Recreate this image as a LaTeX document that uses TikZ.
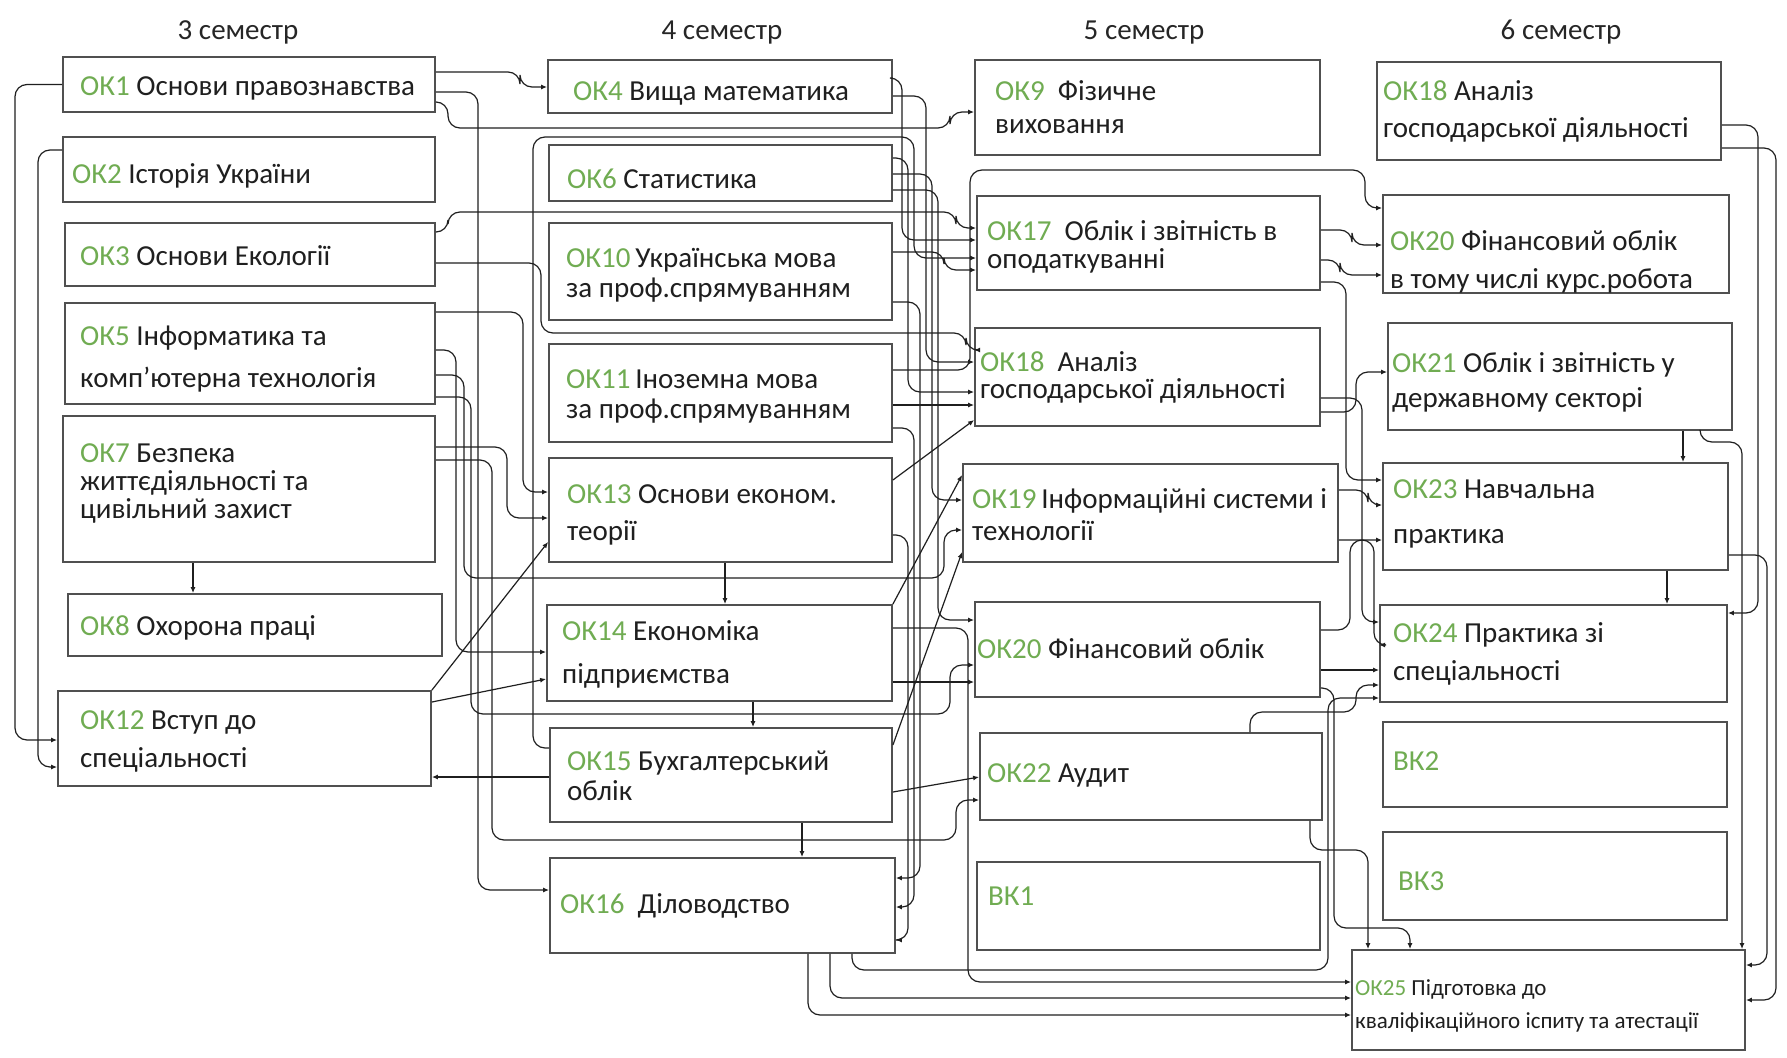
\documentclass[tikz,border=0pt]{standalone}
\usepackage{fontspec}
\setmainfont{Carlito}
\usetikzlibrary{arrows.meta}

\definecolor{okgreen}{RGB}{112,172,82}
\definecolor{boxgray}{RGB}{80,80,80}
\newcommand{\kod}[1]{\textcolor{okgreen}{#1}}

\tikzset{
  box/.style={draw=boxgray, line width=1.8pt, fill=white, rectangle, inner sep=0pt},
  txt/.style={anchor=base west, inner sep=0pt, align=left, text=black!88, font=\fontsize{29}{#1}\selectfont},
  txt/.default=34,
  head/.style={anchor=base, inner sep=0pt, text=black!85, font=\fontsize{29}{34}\selectfont},
  link/.style={draw=black!88, line width=1.2pt, rounded corners=12pt},
  tip/.style={link, -{Latex[length=6pt,width=5pt]}},
}

\begin{document}
\begin{tikzpicture}[x=1pt, y=-1pt]

		\fill[white] (0,0) rectangle (1787,1057);
		\useasboundingbox (0,0) rectangle (1787,1057);

		% semesters
		\foreach \x / \s in {238/3, 722/4, 1144/5, 1561/6} {
		\node[head] (sem\s) at (\x, 40) {\s\ семестр};
		}

		% boxes
		\foreach \n / \xa / \ya / \xb / \yb in {
		ok1/63/57/435/112, ok2/63/137/435/202, ok3/65/223/435/286, ok5/65/303/435/404,
		ok7/63/416/435/562, ok8/68/594/442/656, ok12/58/691/431/786,
		ok4/548/60/892/113, ok6/549/145/892/201, ok10/549/223/892/320, ok11/549/344/892/442,
		ok13/549/458/892/562, ok14/547/605/892/701, ok15/550/728/892/822, ok16/550/858/895/953,
		ok9/975/60/1320/155, ok17/977/196/1320/290, ok18/975/328/1320/426, ok19/963/464/1338/562,
		ok20/975/602/1320/697, ok22/980/733/1322/820, bk1/977/862/1320/950,
		okb18/1377/62/1721/160, okb20/1383/195/1729/293, ok21/1388/323/1732/430, ok23/1383/463/1728/570,
		ok24/1380/605/1727/702, bk2/1383/722/1727/807, bk3/1383/832/1727/920, ok25/1352/950/1745/1050} {
		\pgfmathsetmacro\w{\xb-\xa}
		\pgfmathsetmacro\h{\yb-\ya}
		\node[box, minimum width=\w pt, minimum height=\h pt] (\n) at ({(\xa+\xb)/2}, {(\ya+\yb)/2}) {};
		}

		% texts, 3 semestr
		\node[txt] (t-ok1) at (80, 95) {\kod{ОК1} Основи правознавства};
		\node[txt] (t-ok2) at (72, 183) {\kod{ОК2} Історія України};
		\node[txt] (t-ok3) at (80, 265) {\kod{ОК3} Основи Екології};
		\node[txt=42] (t-ok5) at (80, 387) {\kod{ОК5} Інформатика та\\комп’ютерна технологія};
		\node[txt=28] (t-ok7) at (80, 518) {\kod{ОК7} Безпека\\життєдіяльності та\\цивільний захист};
		\node[txt] (t-ok8) at (80, 635) {\kod{ОК8} Охорона праці};
		\node[txt=38] (t-ok12) at (80, 767) {\kod{ОК12} Вступ до\\спеціальності};

		% texts, 4 semestr
		\node[txt] (t-ok4) at (573, 100) {\kod{ОК4} Вища математика};
		\node[txt] (t-ok6) at (567, 188) {\kod{ОК6} Статистика};
		\node[txt=30] (t-ok10) at (566, 297) {\kod{ОК10}\,Українська мова\\за проф.спрямуванням};
		\node[txt=30] (t-ok11) at (566, 418) {\kod{ОК11}\,Іноземна мова\\за проф.спрямуванням};
		\node[txt=37] (t-ok13) at (567, 540) {\kod{ОК13} Основи економ.\\теорії};
		\node[txt=43] (t-ok14) at (562, 683) {\kod{ОК14} Економіка\\підприємства};
		\node[txt=30] (t-ok15) at (567, 800) {\kod{ОК15} Бухгалтерський\\облік};
		\node[txt] (t-ok16) at (560, 913) {\kod{ОК16}~ Діловодство};

		% texts, 5 semestr
		\node[txt=33] (t-ok9) at (995, 133) {\kod{ОК9}~ Фізичне\\виховання};
		\node[txt=28] (t-ok17) at (987, 268) {\kod{ОК17}~ Облік і звітність в\\оподаткуванні};
		\node[txt=27] (t-ok18) at (980, 398) {\kod{ОК18}~ Аналіз\\господарської діяльності};
		\node[txt=32] (t-ok19) at (972, 540) {\kod{ОК19}\,Інформаційні системи і\\технології};
		\node[txt] (t-ok20) at (977, 658) {\kod{ОК20} Фінансовий облік};
		\node[txt] (t-ok22) at (987, 782) {\kod{ОК22} Аудит};
		\node[txt] (t-bk1) at (988, 905) {\kod{ВК1}};

		% texts, 6 semestr
		\node[txt=37] (t-okb18) at (1383, 137) {\kod{ОК18} Аналіз\\господарської діяльності};
		\node[txt=38] (t-okb20) at (1390, 288) {\kod{ОК20} Фінансовий облік\\в тому числі курс.робота};
		\node[txt=35] (t-ok21) at (1392, 407) {\kod{ОК21} Облік і звітність у\\державному секторі};
		\node[txt=45] (t-ok23) at (1393, 543) {\kod{ОК23} Навчальна\\практика};
		\node[txt=38] (t-ok24) at (1393, 680) {\kod{ОК24} Практика зі\\спеціальності};
		\node[txt] (t-bk2) at (1393, 770) {\kod{ВК2}};
		\node[txt] (t-bk3) at (1398, 890) {\kod{ВК3}};
		\node[txt, font=\fontsize{23}{33}\selectfont] (t-ok25) at (1355, 1028) {\kod{ОК25} Підготовка до\\кваліфікаційного іспиту та атестації};

		% left side
		\draw[tip] (ok1.west) -| (15,740) -- (ok12.west |- 0,740);
		\draw[tip] (ok2.west |- 0,150) -| (38,767) -- (ok12.west |- 0,767);
		\draw[tip] (ok7.south -| 193,0) -- (ok8.north -| 193,0);

		% 3 -> 4, 5
		\draw[tip] (ok1.east |- 0,72) -| (520,87) -- (ok4.west |- 0,87);
		\draw[tip] (ok1.east |- 0,102) -- (448,102) |- (950,128) |- (ok9.west |- 0,112);
		\draw[tip] (ok1.east |- 0,92) -| (478,890) -- (ok16.west |- 0,890);
		\draw[tip] (ok3.east |- 0,232) -| (448,212) -| (956,228) -- (ok17.west |- 0,228);
		\draw[tip] (ok3.east |- 0,263) -| (541,333) -| (966,350) -- (ok18.west |- 0,350);
		\draw[tip] (ok5.east |- 0,312) -| (523,492) -- (ok13.west |- 0,492);
		\draw[tip] (ok5.east |- 0,350) -| (456,652) -- (ok14.west |- 0,652);
		\draw[tip] (ok5.east |- 0,375) -| (464,578) -| (944,530) -- (ok19.west |- 0,530);
		\draw[tip] (ok5.east |- 0,397) -| (471,714) -| (950,665) -- (ok20.west |- 0,665);
		\draw[tip] (ok7.east |- 0,447) -| (507,518) -- (ok13.west |- 0,518);
		\draw[tip] (ok7.east |- 0,460) -| (492,840) -| (956,800) -- (ok22.west |- 0,800);
		\draw[tip] (ok12.east |- 0,702) -- (ok14.west |- 0,679);
		\draw[tip] (ok15.west |- 0,777) -- (ok12.east |- 0,777);
		\draw[tip] (ok12.north east) -- (ok13.west |- 0,542);

		% 4 semestr
		\draw[tip] (ok13.south -| 725,0) -- (ok14.north -| 725,0);
		\draw[tip] (ok14.south -| 753,0) -- (ok15.north -| 753,0);
		\draw[tip] (ok15.south -| 802,0) -- (ok16.north -| 802,0);

		% 4 -> 5
		\draw[tip] (ok15.west |- 0,748) -| (533,137) -| (914,258) -- (ok17.west |- 0,258);
		\draw[tip] (ok4.east |- 0,78) -| (902,240) -- (ok17.west |- 0,240);
		\draw[tip] (ok4.east |- 0,96) -| (926,362) -- (ok18.west |- 0,362);
		\draw[tip] (ok6.east |- 0,158) -| (908,392) -- (ok18.west |- 0,392);
		\draw[tip] (ok6.east |- 0,174) -| (932,500) -- (ok19.west |- 0,500);
		\draw[tip] (ok6.east |- 0,190) -| (938,620) -- (ok20.west |- 0,620);
		\draw[tip] (ok10.east |- 0,252) -| (944,270) -- (ok17.west |- 0,270);
		\draw[tip] (ok11.east |- 0,405) -- (ok18.west |- 0,405);
		\draw[tip] (ok13.east |- 0,480) -- (ok18.west |- 0,420);
		\draw[tip] (ok14.north east) -- (ok19.west |- 0,475);
		\draw[tip] (ok14.east |- 0,682) -- (ok20.west |- 0,682);
		\draw[tip] (ok15.east |- 0,792) -- (ok22.west |- 0,777);
		\draw[tip] (ok15.east |- 0,745) -- (ok19.west |- 0,552);
		\draw[tip] (ok10.east |- 0,302) -| (920,878) -- (ok16.east |- 0,878);
		\draw[tip] (ok11.east |- 0,428) -| (914,907) -- (ok16.east |- 0,907);
		\draw[tip] (ok13.east |- 0,535) -| (908,940) -- (ok16.east |- 0,940);

		% 5 -> 6
		\draw[tip] (ok11.east |- 0,370) -| (970,170) -| (1365,208) -- (okb20.west |- 0,208);
		\draw[tip] (ok17.east |- 0,230) -| (1352,245) -- (okb20.west |- 0,245);
		\draw[tip] (ok17.east |- 0,260) -| (1340,275) -- (okb20.west |- 0,275);
		\draw[tip] (ok17.east |- 0,282) -| (1346,480) -- (ok23.west |- 0,480);
		\draw[tip] (ok18.east |- 0,412) -| (1356,372) -- (ok21.west |- 0,372);
		\draw[tip] (ok18.east |- 0,398) -| (1362,622) -- (ok24.west |- 0,622);
		\draw[tip] (ok19.east |- 0,490) -| (1368,505) -- (ok23.west |- 0,505);
		\draw[tip] (ok19.east |- 0,540) -| (1374,645) -- (ok24.west |- 0,645);
		\draw[tip] (ok20.east |- 0,630) -| (1350,540) -- (ok23.west |- 0,540);
		\draw[tip] (ok20.east |- 0,670) -- (ok24.west |- 0,670);
		\draw[tip] (ok22.north -| 1250,0) |- (1356,712) |- (ok24.west |- 0,685);
		\draw[tip] (ok22.south -| 1310,0) |- (1368,850) -- (ok25.north -| 1368,0);
		\draw[tip] (ok20.east |- 0,688) -| (1334,928) -| (ok25.north -| 1410,0);

		% bottom lanes
		\draw[tip] (ok16.south -| 852,0) |- (1328,970) |- (ok24.west |- 0,698);
		\draw[tip] (ok16.south -| 808,0) |- (ok25.west |- 0,1015);
		\draw[tip] (ok16.south -| 830,0) |- (ok25.west |- 0,998);
		\draw[tip] (ok14.east |- 0,628) -| (968,982) -- (ok25.west |- 0,982);

		% 6 semestr
		\draw[tip] (okb18.east |- 0,125) -| (1758,613) -- (ok24.east |- 0,613);
		\draw[tip] (okb18.east |- 0,148) -| (1776,1000) -- (ok25.east |- 0,1000);
		\draw[tip] (ok21.south -| 1683,0) -- (ok23.north -| 1683,0);
		\draw[tip] (ok23.south -| 1667,0) -- (ok24.north -| 1667,0);
		\draw[tip] (ok21.south -| 1700,0) |- (1742,442) -- (ok25.north -| 1742,0);
		\draw[tip] (ok23.east |- 0,555) -| (1767,965) -- (ok25.east |- 0,965);

	\end{tikzpicture}
\end{document}
